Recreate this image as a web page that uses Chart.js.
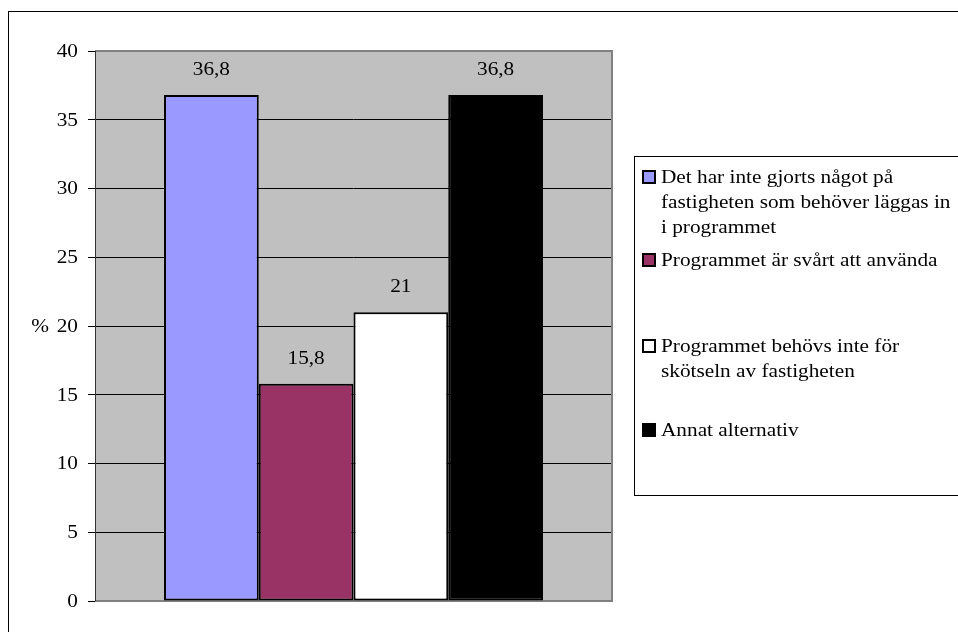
<!DOCTYPE html>
<html>
<head>
<meta charset="utf-8">
<script src="https://cdn.jsdelivr.net/npm/chart.js@4/dist/chart.umd.min.js"></script>
<style>
  html, body { margin: 0; padding: 0; background: #fff; }
  #wrap { width: 958px; height: 632px; position: relative; overflow: hidden; }
</style>
</head>
<body>
<div id="wrap"><canvas id="chart" width="958" height="632"></canvas></div>
<script>
// Data
const categories = [''];
const seriesNames = [
    ['Det har inte gjorts något på', 'fastigheten som behöver läggas in', 'i programmet'],
    ['Programmet är svårt att använda'],
    ['Programmet behövs inte för', 'skötseln av fastigheten'],
    ['Annat alternativ']
];
const seriesValues = [[36.8], [15.8], [21], [36.8]];
const yTicks = [0, 5, 10, 15, 20, 25, 30, 35, 40];
const yTitle = '%';

const seriesColors = ['#9999FF', '#993366', '#FFFFFF', '#000000'];
const FONT = '18.5px "Liberation Serif", "Times New Roman", serif';
const STRETCH = 1.15; // text in the original is a bit wide

// draws text slightly stretched horizontally
function wideText(ctx, txt, x, y, align) {
    ctx.save();
    ctx.translate(x, y);
    ctx.scale(STRETCH, 1);
    ctx.textAlign = align;
    ctx.fillText(txt, 0, 0);
    ctx.restore();
}

// plot background + frame (under the bars)
const plotArea = {
    id: 'plotArea',
    beforeDraw(chart) {
        const ctx = chart.ctx;
        const a = chart.chartArea;
        ctx.save();
        // outer frame of the whole chart
        ctx.strokeStyle = '#000';
        ctx.lineWidth = 1;
        ctx.strokeRect(8.5, 11.5, 1000, 700);
        ctx.fillStyle = '#C0C0C0';
        ctx.fillRect(a.left, a.top, a.right - a.left, a.bottom - a.top);
        ctx.restore();
    },
    beforeDatasetsDraw(chart) {
        const ctx = chart.ctx;
        const a = chart.chartArea;
        ctx.save();
        ctx.strokeStyle = '#808080';
        ctx.lineWidth = 2;
        ctx.beginPath();
        ctx.moveTo(a.left, a.top);
        ctx.lineTo(a.right, a.top);
        ctx.lineTo(a.right, a.bottom);
        ctx.lineTo(a.left, a.bottom);
        ctx.stroke();
        ctx.strokeStyle = '#333';
        ctx.lineWidth = 1;
        ctx.beginPath();
        ctx.moveTo(a.left + 0.5, a.top);
        ctx.lineTo(a.left + 0.5, a.bottom);
        ctx.stroke();
        ctx.restore();
    }
};

// tick labels, value labels, % title and legend box
const extras = {
    id: 'extras',
    afterDraw(chart) {
        const ctx = chart.ctx;
        const y = chart.scales.y;
        ctx.save();
        ctx.font = FONT;
        ctx.fillStyle = '#000';
        ctx.textBaseline = 'middle';

        y.ticks.forEach(t => {
            wideText(ctx, String(t.value), y.right - 7 - 10, y.getPixelForValue(t.value) + 1, 'right');
        });

        chart.data.datasets.forEach((ds, i) => {
            chart.getDatasetMeta(i).data.forEach((el, j) => {
                const txt = String(ds.data[j]).replace('.', ',');
                wideText(ctx, txt, el.x, el.y - 25, 'center');
            });
        });

        // axis title
        wideText(ctx, yTitle, 40, y.getPixelForValue(20) + 1, 'center');

        // legend
        ctx.strokeStyle = '#000';
        ctx.lineWidth = 1;
        ctx.strokeRect(634.5, 156.5, 400, 339);
        const itemTop = [177, 260, 346, 430];
        const lineGap = 25;
        chart.data.datasets.forEach((ds, i) => {
            const y0 = itemTop[i];
            ctx.fillStyle = seriesColors[i];
            ctx.fillRect(643, y0 - 6, 12, 12);
            ctx.strokeStyle = '#000';
            ctx.lineWidth = 2;
            ctx.strokeRect(643, y0 - 6, 12, 12);
            ctx.fillStyle = '#000';
            ds.label.forEach((t, k) => wideText(ctx, t, 661, y0 + k * lineGap + 1, 'left'));
        });
        ctx.restore();
    }
};

new Chart(document.getElementById('chart'), {
    type: 'bar',
    data: {
        labels: categories,
        datasets: seriesNames.map((name, i) => ({
            label: name,
            data: seriesValues[i],
            backgroundColor: seriesColors[i],
            borderColor: '#000',
            borderWidth: 2,
            borderSkipped: false,
            categoryPercentage: 0.733,
            barPercentage: 1.0
        }))
    },
    options: {
        responsive: false,
        animation: false,
        devicePixelRatio: 1,
        layout: {
            padding: { left: 0, top: 51, right: 346, bottom: 31 }
        },
        plugins: {
            legend: { display: false },
            tooltip: { enabled: false }
        },
        scales: {
            x: {
                display: false
            },
            y: {
                min: 0,
                max: 40,
                afterBuildTicks: function (scale) {
                    scale.ticks = yTicks.map(v => ({ value: v }));
                },
                afterFit: function (scale) {
                    scale.width = 95;
                },
                border: { display: false },
                grid: {
                    color: function (c) {
                        return (c.tick && (c.tick.value === 0 || c.tick.value === 40)) ? 'rgba(0,0,0,0)' : '#000';
                    },
                    lineWidth: 1,
                    tickColor: '#000',
                    tickLength: 7
                },
                ticks: {
                    display: false
                }
            }
        }
    },
    plugins: [plotArea, extras]
});
</script>
</body>
</html>
